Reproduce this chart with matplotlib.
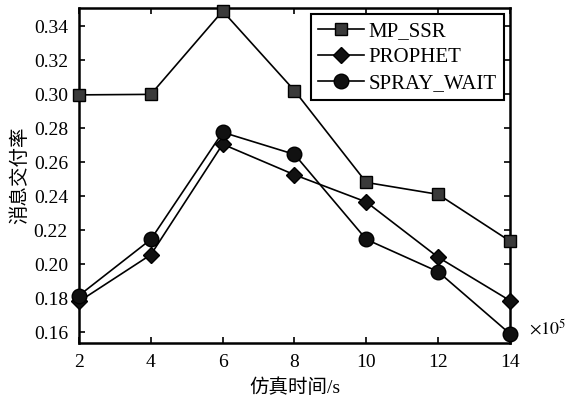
import matplotlib
matplotlib.use("Agg")
import matplotlib.pyplot as plt

x = [2, 4, 6, 8, 10, 12, 14]
mp_ssr = [0.2995, 0.2998, 0.3488, 0.302, 0.248, 0.241, 0.2135]
prophet = [0.178, 0.2055, 0.2705, 0.2525, 0.2365, 0.204, 0.1785]
spray_wait = [0.1815, 0.2145, 0.2775, 0.2645, 0.2145, 0.1955, 0.159]
xticks = [2, 4, 6, 8, 10, 12, 14]
yticks = [0.16, 0.18, 0.20, 0.22, 0.24, 0.26, 0.28, 0.30, 0.32, 0.34]

fam = ['Liberation Serif', 'Noto Sans CJK SC']
plt.rcParams['font.family'] = fam
plt.rcParams['mathtext.fontset'] = 'stix'

fig = plt.figure(figsize=(5.66, 4.08), dpi=100)
ax = fig.add_axes([0.1396, 0.159, 0.7614, 0.821])

ax.plot(x, mp_ssr, '-', color='black', lw=1.2, marker='s', ms=9,
        mfc='#3a3a3a', mec='black', mew=1.0, label='MP_SSR', clip_on=False, zorder=3)
ax.plot(x, prophet, '-', color='black', lw=1.2, marker='D', ms=8,
        mfc='#111111', mec='black', label='PROPHET', clip_on=False, zorder=3)
ax.plot(x, spray_wait, '-', color='black', lw=1.2, marker='o', ms=10.5,
        mfc='#111111', mec='black', label='SPRAY_WAIT', clip_on=False, zorder=3)

ax.set_xlim(2, 14)
ax.set_ylim(0.1535, 0.3505)
ax.set_xticks(xticks)
ax.set_xticklabels([str(v) for v in xticks], fontsize=14)
ax.set_yticks(yticks)
ax.set_yticklabels([f"{v:.2f}" for v in yticks], fontsize=14)
ax.tick_params(direction='in', top=True, right=True, length=4, width=1.2, pad=8)
for s in ax.spines.values():
    s.set_linewidth(1.8)

ax.set_xlabel('仿真时间/s', fontsize=14, labelpad=5)
ax.set_ylabel('消息交付率', fontsize=14, labelpad=3)

leg = ax.legend(loc='upper right', fontsize=15, frameon=True, fancybox=False,
                edgecolor='black', framealpha=1, borderpad=0.35, labelspacing=0.3,
                handlelength=2.2, handletextpad=0.2, borderaxespad=0.3)
leg.get_frame().set_linewidth(1.5)

fig.text(0.935, 0.194, r'$\times 10^{5}$', fontsize=13, ha='left', va='center')

fig.savefig('out.png', dpi=100)
